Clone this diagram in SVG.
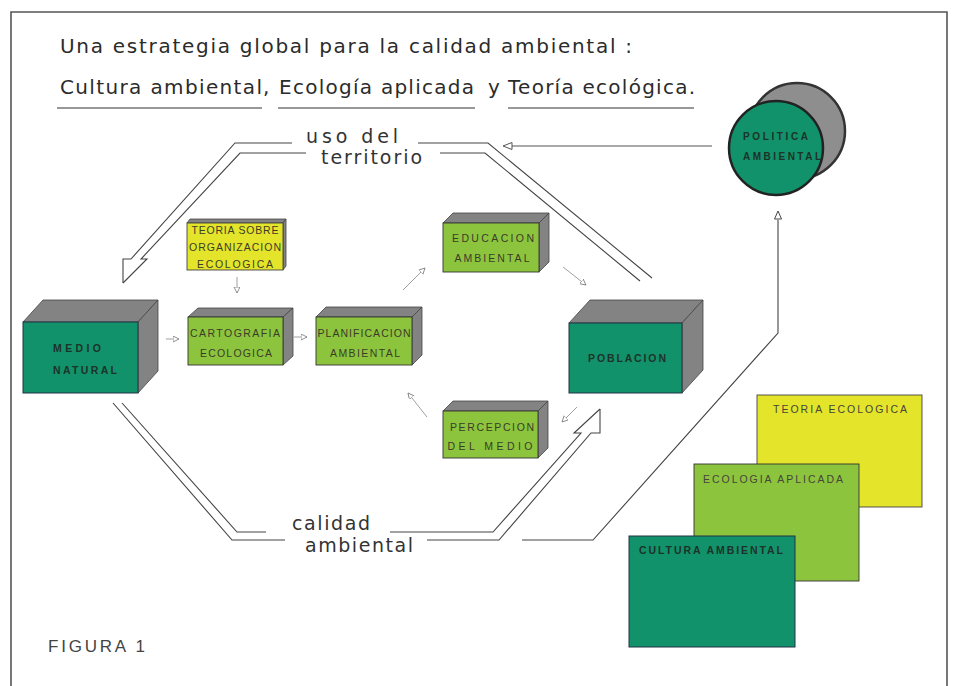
<svg xmlns="http://www.w3.org/2000/svg" width="956" height="686" viewBox="0 0 956 686">
<defs>
<marker id="sa" markerWidth="8" markerHeight="7" refX="6" refY="3" orient="auto" markerUnits="userSpaceOnUse">
<path d="M0,0 L6,3 L0,6 Z" fill="#fff" stroke="#777" stroke-width="0.8"/>
</marker>
<style>
.frame{fill:none;stroke:#555;stroke-width:1.6}
.title{font-family:"DejaVu Sans","Liberation Sans",sans-serif;font-size:20px;fill:#2b2b2b}
.lbl{font-family:"DejaVu Sans","Liberation Sans",sans-serif;font-size:19px;fill:#333}
.ul{stroke:#333;stroke-width:1.2}
.dl{fill:none;stroke:#444;stroke-width:1.1;stroke-linejoin:miter}
.sm{fill:none;stroke:#888;stroke-width:0.8;marker-end:url(#sa)}
.side{fill:#838383;stroke:#444;stroke-width:0.8}
.dg{fill:#12926a;stroke:#234;stroke-width:1}
.lg{fill:#8cc43e;stroke:#333;stroke-width:0.9}
.yl{fill:#e4e42a;stroke:#444;stroke-width:0.9}
.bt{font-family:"Liberation Sans",Arial,sans-serif;font-size:10.5px;fill:#3c3c28;text-anchor:middle}
.bb{font-family:"Liberation Sans",Arial,sans-serif;font-size:10.5px;font-weight:bold;fill:#1c3329}
.lt{font-family:"Liberation Sans",Arial,sans-serif;font-size:10.5px;fill:#45453a}
.fig{font-family:"Liberation Sans",Arial,sans-serif;font-size:17px;fill:#444}
</style>
</defs>

<path class="frame" d="M11,686 L11,12 L947,12 L947,686"/>

<g id="title">
<text class="title" x="60" y="53" textLength="572" lengthAdjust="spacing">Una estrategia global  para  la  calidad  ambiental :</text>
<text class="title" x="60" y="94" textLength="202" lengthAdjust="spacing">Cultura ambiental</text>
<text class="title" x="263" y="94">,</text>
<text class="title" x="279" y="94" textLength="195" lengthAdjust="spacing">Ecología aplicada</text>
<text class="title" x="488" y="94">y</text>
<text class="title" x="508" y="94" textLength="187" lengthAdjust="spacing">Teoría ecológica.</text>
<line class="ul" x1="57" y1="108" x2="262" y2="108"/>
<line class="ul" x1="278" y1="108" x2="475" y2="108"/>
<line class="ul" x1="508" y1="108" x2="694" y2="108"/>
</g>

<g id="connectors">
<polyline class="dl" points="292,143 235,143 131,259 123,259 123,283"/>
<polyline class="dl" points="306,153 240,153 141,259 147,259 123,283"/>
<polyline class="dl" points="418,143 488,143 652,278"/>
<polyline class="dl" points="440,153 485,153 640,281"/>
<polyline class="dl" points="113,403 232,540 285,540"/>
<polyline class="dl" points="122,403 237,532 266,532"/>
<polyline class="dl" points="390,532 493,532 581,433 574,433 600,409"/>
<polyline class="dl" points="427,540 499,540 591,433 600,433 600,409"/>
<polyline class="dl" points="522,540 593,540 778,333 778,220"/>
<polygon points="778,211 774.5,219 781.5,219" fill="#fff" stroke="#444" stroke-width="1"/>
<line x1="712" y1="146" x2="512" y2="146" stroke="#555" stroke-width="1"/>
<polygon points="503,146 512,142.5 512,149.5" fill="#fff" stroke="#555" stroke-width="1"/>
<line class="sm" x1="166" y1="339" x2="179" y2="339"/>
<line class="sm" x1="294" y1="337" x2="307" y2="337"/>
<line class="sm" x1="237" y1="277" x2="237" y2="293"/>
<line class="sm" x1="403" y1="290" x2="425" y2="268"/>
<line class="sm" x1="563" y1="267" x2="586" y2="285"/>
<line class="sm" x1="427" y1="417" x2="408" y2="393"/>
<line class="sm" x1="577" y1="407" x2="562" y2="422"/>
</g>

<g id="uso-del-territorio">
<text class="lbl" x="306" y="143" textLength="92" lengthAdjust="spacing">uso  del</text>
<text class="lbl" x="321" y="164" textLength="101" lengthAdjust="spacing">territorio</text>
</g>

<g id="calidad-ambiental">
<text class="lbl" x="292" y="530" textLength="78" lengthAdjust="spacing">calidad</text>
<text class="lbl" x="305" y="552" textLength="108" lengthAdjust="spacing">ambiental</text>
</g>

<g id="politica-ambiental">
<circle cx="797" cy="131" r="48" fill="#8e8e8e" stroke="#333" stroke-width="2.5"/>
<circle cx="776" cy="148" r="47" fill="#12926a" stroke="#222" stroke-width="2.5"/>
<text class="bb" x="743" y="140" textLength="65" lengthAdjust="spacing" style="font-size:10px">POLITICA</text>
<text class="bb" x="743" y="160" textLength="78" lengthAdjust="spacing" style="font-size:10px">AMBIENTAL</text>
</g>

<g id="medio-natural">
<polygon class="side" points="23,322 43,300 158,300 138,322"/>
<polygon class="side" points="138,322 158,300 158,371 138,393"/>
<rect class="dg" x="23" y="322" width="115" height="71"/>
<text class="bb" x="53" y="352" textLength="48" lengthAdjust="spacing">MEDIO</text>
<text class="bb" x="53" y="374" textLength="64" lengthAdjust="spacing">NATURAL</text>
</g>

<g id="poblacion">
<polygon class="side" points="569,323 590,300 703,300 682,323"/>
<polygon class="side" points="682,323 703,300 703,370 682,393"/>
<rect class="dg" x="569" y="323" width="113" height="70"/>
<text class="bb" x="588" y="362" textLength="78" lengthAdjust="spacing">POBLACION</text>
</g>

<g id="teoria-sobre-organizacion">
<polygon class="side" points="187,223 190,219 286,219 283,223"/>
<polygon class="side" points="283,223 286,219 286,266 283,270"/>
<rect class="yl" x="187" y="223" width="96" height="47"/>
<text class="bt" x="235" y="234" textLength="87" lengthAdjust="spacing">TEORIA SOBRE</text>
<text class="bt" x="235" y="251" textLength="92" lengthAdjust="spacing">ORGANIZACION</text>
<text class="bt" x="235" y="268" textLength="76" lengthAdjust="spacing">ECOLOGICA</text>
</g>

<g id="cartografia">
<polygon class="side" points="188,317 198,308 293,308 283,317"/>
<polygon class="side" points="283,317 293,308 293,356 283,365"/>
<rect class="lg" x="188" y="317" width="95" height="48"/>
<text class="bt" x="235" y="337" textLength="90" lengthAdjust="spacing">CARTOGRAFIA</text>
<text class="bt" x="236" y="357" textLength="72" lengthAdjust="spacing">ECOLOGICA</text>
</g>

<g id="planificacion">
<polygon class="side" points="316,317 326,307 422,307 412,317"/>
<polygon class="side" points="412,317 422,307 422,355 412,365"/>
<rect class="lg" x="316" y="317" width="96" height="48"/>
<text class="bt" x="364" y="337" textLength="93" lengthAdjust="spacing">PLANIFICACION</text>
<text class="bt" x="365" y="357" textLength="70" lengthAdjust="spacing">AMBIENTAL</text>
</g>

<g id="educacion">
<polygon class="side" points="443,223 453,213 549,213 539,223"/>
<polygon class="side" points="539,223 549,213 549,262 539,272"/>
<rect class="lg" x="443" y="223" width="96" height="49"/>
<text class="bt" x="493" y="242" textLength="82" lengthAdjust="spacing">EDUCACION</text>
<text class="bt" x="492" y="262" textLength="75" lengthAdjust="spacing">AMBIENTAL</text>
</g>

<g id="percepcion">
<polygon class="side" points="443,411 453,401 548,401 538,411"/>
<polygon class="side" points="538,411 548,401 548,448 538,458"/>
<rect class="lg" x="443" y="411" width="95" height="47"/>
<text class="bt" x="492" y="431" textLength="84" lengthAdjust="spacing">PERCEPCION</text>
<text class="bt" x="490" y="450" textLength="85" lengthAdjust="spacing">DEL   MEDIO</text>
</g>

<g id="teoria-ecologica">
<rect class="yl" x="757" y="395" width="165" height="112"/>
<text class="lt" x="773" y="413" textLength="134" lengthAdjust="spacing">TEORIA  ECOLOGICA</text>
</g>

<g id="ecologia-aplicada">
<rect class="lg" x="694" y="464" width="165" height="117"/>
<text class="lt" x="703" y="483" textLength="140" lengthAdjust="spacing">ECOLOGIA APLICADA</text>
</g>

<g id="cultura-ambiental">
<rect class="dg" x="629" y="536" width="166" height="111"/>
<text class="bb" x="639" y="554" textLength="144" lengthAdjust="spacing">CULTURA AMBIENTAL</text>
</g>

<g id="figura">
<text class="fig" x="48" y="652" textLength="97" lengthAdjust="spacing">FIGURA 1</text>
</g>
</svg>
